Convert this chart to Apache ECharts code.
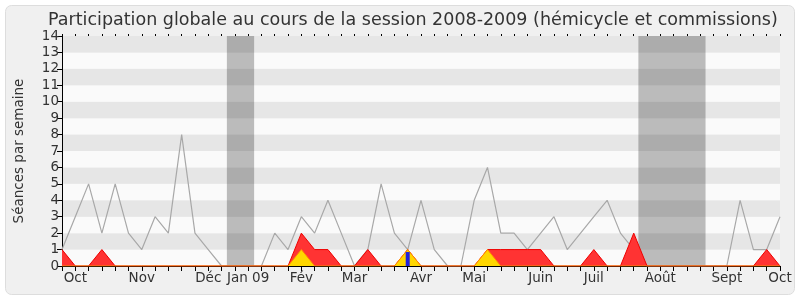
<!DOCTYPE html>
<html>
<head>
<meta charset="utf-8">
<script src="https://cdn.jsdelivr.net/npm/echarts@6/dist/echarts.min.js"></script>
<style>
  html, body { margin: 0; padding: 0; background: #fff; }
  #chart { width: 800px; height: 300px; }
</style>
</head>
<body>
<div id="chart"></div>
<script>
// weekly index 0..54 (Oct 2008 -> Oct 2009)
var monthLabels = ['Oct', 'Nov', 'Déc', 'Jan 09', 'Fév', 'Mar', 'Avr', 'Mai', 'Juin', 'Juil', 'Août', 'Sept', 'Oct'];
var monthWeeks = [1, 6, 11, 14, 18, 22, 27, 31, 36, 40, 45, 50, 54];

// total sessions (grey line)
var totalSeances = [1, 3, 5, 2, 5, 2, 1, 3, 2, 8, 2, 1, 0, 0, 0, 0, 2, 1, 3, 2,
    4, 2, 0, 1, 5, 2, 1, 4, 1, 0, 0, 4, 6, 2, 2, 1, 2, 3, 1, 2,
    3, 4, 2, 1, 0, 0, 0, 0, 0, 0, 0, 4, 1, 1, 3];
// presence (red)
var presences = [1, 0, 0, 1, 0, 0, 0, 0, 0, 0, 0, 0, 0, 0, 0, 0, 0, 0, 2, 1,
    1, 0, 0, 1, 0, 0, 1, 0, 0, 0, 0, 0, 1, 1, 1, 1, 1, 0, 0, 0,
    1, 0, 0, 2, 0, 0, 0, 0, 0, 0, 0, 0, 0, 1, 0];
// hemicycle (yellow)
var hemicycle = [0, 0, 0, 0, 0, 0, 0, 0, 0, 0, 0, 0, 0, 0, 0, 0, 0, 0, 1, 0,
    0, 0, 0, 0, 0, 0, 1, 0, 0, 0, 0, 0, 1, 0, 0, 0, 0, 0, 0, 0,
    0, 0, 0, 0, 0, 0, 0, 0, 0, 0, 0, 0, 0, 0, 0];
// interventions (blue bar)
var interventions = [[26, 0.85]];
// vacations (grey bands)
var vacances = [[12.4, 14.45], [43.35, 48.4]];

function toPairs(arr) {
    return arr.map(function (v, i) { return [i, v]; });
}

var chart = echarts.init(document.getElementById('chart'));
var font = 'DejaVu Sans';

var option = {
    animation: false,
    textStyle: { fontFamily: font },
    graphic: [{
        type: 'rect',
        z: -10,
        shape: { x: 5.5, y: 5.5, width: 789, height: 289, r: 6 },
        style: { fill: '#f0f0f0', stroke: '#dddddd', lineWidth: 1 }
    }],
    title: {
        text: 'Participation globale au cours de la session 2008-2009 (hémicycle et commissions)',
        left: 43,
        top: 6,
        textStyle: { fontFamily: font, fontSize: 17.5, fontWeight: 'normal', color: '#333' }
    },
    grid: { left: 62, right: 20, top: 36, bottom: 34 },
    xAxis: [{
        type: 'value',
        min: 0,
        max: 54,
        interval: 1,
        axisLine: { lineStyle: { color: '#000', width: 1 } },
        axisTick: { length: 5, lineStyle: { color: '#000' } },
        splitLine: { show: false },
        axisLabel: {
            fontSize: 13.5,
            color: '#333',
            margin: 5,
            formatter: function (v) {
                var k = monthWeeks.indexOf(v);
                return k >= 0 ? monthLabels[k] : '';
            }
        }
    }, {
        type: 'value',
        position: 'top',
        min: 0,
        max: 54,
        interval: 1,
        axisLine: { show: false },
        axisTick: { length: 2, lineStyle: { color: '#000' } },
        axisLabel: { show: false },
        splitLine: { show: false }
    }],
    yAxis: {
        type: 'value',
        min: 0,
        max: 14,
        interval: 1,
        name: 'Séances par semaine',
        nameLocation: 'middle',
        nameGap: 36,
        nameTextStyle: { fontSize: 13.5, color: '#333' },
        axisLine: { show: true, lineStyle: { color: '#000' } },
        axisTick: { show: true, length: 5, lineStyle: { color: '#000' } },
        axisLabel: { fontSize: 13.5, color: '#333', margin: 3 },
        splitLine: { show: false },
        splitArea: { show: true, areaStyle: { color: ['#fafafa', '#e6e6e6'] } }
    },
    series: [{
        type: 'line',
        name: 'vacances',
        data: [],
        silent: true,
        markArea: {
            silent: true,
            itemStyle: { color: 'rgba(0,0,0,0.25)' },
            data: vacances.map(function (p) { return [{ xAxis: p[0] }, { xAxis: p[1] }]; })
        }
    }, {
        type: 'line',
        name: 'total',
        data: toPairs(totalSeances),
        symbol: 'none',
        lineStyle: { color: '#a8a8a8', width: 1.2 },
        z: 3
    }, {
        type: 'line',
        name: 'présences',
        data: toPairs(presences),
        symbol: 'none',
        lineStyle: { color: '#ee0000', width: 1 },
        areaStyle: { color: '#ff3333', opacity: 1 },
        z: 4
    }, {
        type: 'line',
        name: 'hémicycle',
        data: toPairs(hemicycle),
        symbol: 'none',
        lineStyle: { color: '#ff8c00', width: 1 },
        areaStyle: { color: '#ffd700', opacity: 1 },
        z: 5
    }, {
        type: 'bar',
        name: 'interventions',
        data: interventions,
        barWidth: 4,
        itemStyle: { color: '#2222dd' },
        z: 6
    }]
};
chart.setOption(option);
</script>
</body>
</html>
